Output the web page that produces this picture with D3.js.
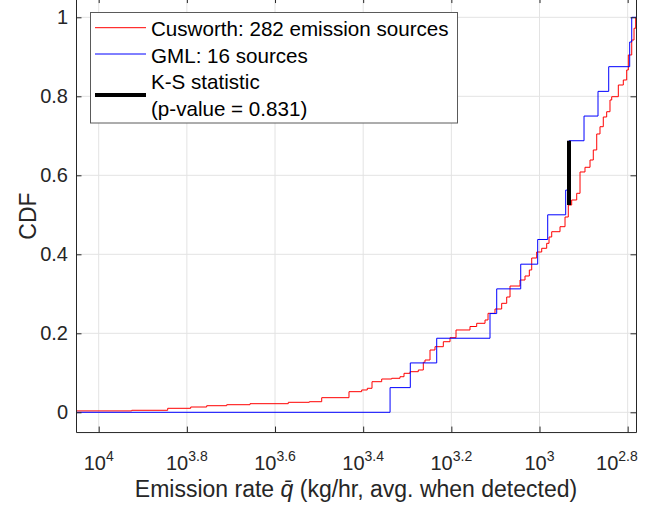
<!DOCTYPE html>
<html>
<head>
<meta charset="utf-8">
<script src="https://cdn.jsdelivr.net/npm/d3@7/dist/d3.min.js"></script>
<style>
  html, body { margin: 0; padding: 0; background: #fff; }
  svg { display: block; font-family: "Liberation Sans", Arial, Helvetica, sans-serif; }
</style>
</head>
<body>
<svg id="chart" width="652" height="505"></svg>
<script>
// Cusworth inventory: empirical CDF breakpoints (log10 of kg/hr, cumulative fraction)
const cusworthLog10Rate = [
  4.0515, 3.9251, 3.8435, 3.7913, 3.7550, 3.7096, 3.6568, 3.5699, 3.5222, 3.4941,
  3.4322, 3.4034, 3.3907, 3.3800, 3.3580, 3.3353, 3.3165, 3.3074, 3.2938, 3.2750,
  3.2636, 3.2598, 3.2484, 3.2371, 3.2182, 3.2030, 3.1894, 3.1577, 3.1425, 3.1236,
  3.1168, 3.1010, 3.0858, 3.0744, 3.0669, 3.0442, 3.0329, 3.0231, 3.0177, 3.0064,
  2.9950, 2.9837, 2.9784, 2.9723, 2.9535, 2.9421, 2.9347, 2.9270, 2.9156, 2.9081,
  2.8968, 2.8854, 2.8780, 2.8702, 2.8628, 2.8553, 2.8476, 2.8401, 2.8362, 2.8212,
  2.8099, 2.8022, 2.7985, 2.7908, 2.7856, 2.7818
];
const cusworthCdf = [
  0.0035, 0.0051, 0.0101, 0.0134, 0.0167, 0.0192, 0.0218, 0.0253, 0.0268, 0.0370,
  0.0522, 0.0565, 0.0608, 0.0775, 0.0843, 0.0861, 0.0901, 0.0987, 0.1028, 0.1071,
  0.1266, 0.1324, 0.1577, 0.1661, 0.1787, 0.1889, 0.2084, 0.2172, 0.2253, 0.2337,
  0.2506, 0.2615, 0.2759, 0.2919, 0.3197, 0.3349, 0.3451, 0.3603, 0.3906, 0.4058,
  0.4152, 0.4278, 0.4438, 0.4572, 0.4699, 0.4944, 0.5248, 0.5375, 0.5544, 0.6084,
  0.6203, 0.6387, 0.6641, 0.7046, 0.7230, 0.7476, 0.7610, 0.7906, 0.7990, 0.8286,
  0.8413, 0.8666, 0.9046, 0.9425, 0.9722, 1.0000
];

// GML: 16 sources (log10 of kg/hr)
const gmlLog10Rate = [
  3.3390, 3.2931, 3.2332, 3.1123, 3.0971, 3.0426, 3.0041, 2.9814,
  2.9406, 2.9331, 2.9331, 2.8990, 2.8673, 2.8430, 2.7954, 2.7908
];

// Kolmogorov-Smirnov statistic location and its end points
const ksLog10Rate = 2.9331;
const ksCdf = [0.5248, 0.6875];
const ksPValue = 0.831;

// axis limits and ticks
const xLimLog10 = [4.0515, 2.7811];
const yLim = [-0.05, 1.05];
const xTickExponents = [4, 3.8, 3.6, 3.4, 3.2, 3, 2.8];
const yTickValues = [0, 0.2, 0.4, 0.6, 0.8, 1];
const yTickLabels = ["0", "0.2", "0.4", "0.6", "0.8", "1"];

const legendLabels = ["Cusworth: 282 emission sources", "GML: 16 sources", "K-S statistic", "(p-value = " + ksPValue + ")"];

// ---- layout ----
const plot = { left: 76, right: 636, top: -2.45, bottom: 432.05 };
const axisColor = "#262626";
const gridColor = "#e3e3e3";
const tickLen = 5.5;

const svg = d3.select("#chart");

const x = d3.scaleLog()
  .domain(xLimLog10.map(e => Math.pow(10, e)))
  .range([plot.left, plot.right]);
const y = d3.scaleLinear()
  .domain(yLim)
  .range([plot.bottom, plot.top]);

// grid
const grid = svg.append("g").attr("class", "grid");
grid.selectAll("line.gx").data(xTickExponents).join("line")
  .attr("x1", d => x(Math.pow(10, d))).attr("x2", d => x(Math.pow(10, d)))
  .attr("y1", plot.top).attr("y2", plot.bottom)
  .attr("stroke", gridColor).attr("stroke-width", 1);
grid.selectAll("line.gy").data(yTickValues).join("line")
  .attr("x1", plot.left).attr("x2", plot.right)
  .attr("y1", d => y(d)).attr("y2", d => y(d))
  .attr("stroke", gridColor).attr("stroke-width", 1);

// clip to the axes box
svg.append("defs").append("clipPath").attr("id", "clip")
  .append("rect")
  .attr("x", plot.left).attr("y", plot.top)
  .attr("width", plot.right - plot.left).attr("height", plot.bottom - plot.top);

const stairs = d3.line()
  .x(d => x(d[0]))
  .y(d => y(d[1]))
  .curve(d3.curveStepAfter);

// Cusworth curve
const redPts = cusworthLog10Rate.map((e, i) => [Math.pow(10, e), cusworthCdf[i]]);
redPts.push([Math.pow(10, xLimLog10[1]), cusworthCdf[cusworthCdf.length - 1]]);

// GML empirical CDF (rates sorted high to low, as plotted on reversed axis)
const gmlSorted = gmlLog10Rate.slice().sort((a, b) => b - a);
const bluePts = [[Math.pow(10, xLimLog10[0]), 0]];
gmlSorted.forEach((e, i) => bluePts.push([Math.pow(10, e), (i + 1) / gmlSorted.length]));
bluePts.push([Math.pow(10, xLimLog10[1]), 1]);

const marks = svg.append("g").attr("clip-path", "url(#clip)");
marks.append("path").datum(redPts)
  .attr("d", stairs).attr("fill", "none")
  .attr("stroke", "#ff0000").attr("stroke-width", 1);
marks.append("path").datum(bluePts)
  .attr("d", stairs).attr("fill", "none")
  .attr("stroke", "#0000ff").attr("stroke-width", 1);
marks.append("line")
  .attr("x1", x(Math.pow(10, ksLog10Rate))).attr("x2", x(Math.pow(10, ksLog10Rate)))
  .attr("y1", y(ksCdf[0])).attr("y2", y(ksCdf[1]))
  .attr("stroke", "#000").attr("stroke-width", 4);

// axes (ticks inward, box on)
const xTicks = xTickExponents.map(e => Math.pow(10, e));
const axB = svg.append("g").attr("transform", `translate(0,${plot.bottom})`)
  .call(d3.axisBottom(x).tickValues(xTicks).tickSizeInner(-tickLen).tickSizeOuter(0).tickFormat(""));
const axT = svg.append("g").attr("transform", `translate(0,${plot.top})`)
  .call(d3.axisTop(x).tickValues(xTicks).tickSizeInner(-tickLen).tickSizeOuter(0).tickFormat(""));
const axL = svg.append("g").attr("transform", `translate(${plot.left},0)`)
  .call(d3.axisLeft(y).tickValues(yTickValues).tickSizeInner(-tickLen).tickSizeOuter(0).tickFormat(""));
const axR = svg.append("g").attr("transform", `translate(${plot.right},0)`)
  .call(d3.axisRight(y).tickValues(yTickValues).tickSizeInner(-tickLen).tickSizeOuter(0).tickFormat(""));
[axB, axT, axL, axR].forEach(a => {
  a.selectAll("path.domain").attr("stroke", axisColor).attr("stroke-width", 1);
  a.selectAll(".tick line").attr("stroke", axisColor).attr("stroke-width", 1);
});

// x tick labels: 10 with superscript exponent, kept inside the figure on the right
const xl = svg.append("g").attr("fill", axisColor).attr("font-size", 20);
const labelRightLimit = plot.right + 2;
xTickExponents.forEach(e => {
  const t = xl.append("text")
    .attr("x", x(Math.pow(10, e)))
    .attr("y", 470)
    .attr("text-anchor", "middle");
  t.append("tspan").text("10");
  t.append("tspan").attr("dy", -9).attr("font-size", 14).text(String(e));
  const bb = t.node().getBBox();
  if (bb.x + bb.width > labelRightLimit) {
    t.attr("x", x(Math.pow(10, e)) - (bb.x + bb.width - labelRightLimit));
  }
});

// y tick labels
svg.append("g").attr("fill", axisColor).attr("font-size", 20)
  .selectAll("text").data(yTickValues).join("text")
  .attr("x", plot.left - 8)
  .attr("y", d => y(d) + 7)
  .attr("text-anchor", "end")
  .text((d, i) => yTickLabels[i]);

// axis titles
const xt = svg.append("text")
  .attr("x", (plot.left + plot.right) / 2)
  .attr("y", 497)
  .attr("text-anchor", "middle")
  .attr("font-size", 23)
  .attr("fill", axisColor);
xt.append("tspan").text("Emission rate ");
xt.append("tspan").attr("font-style", "italic").text("q\u0304");
xt.append("tspan").text(" (kg/hr, avg. when detected)");

svg.append("text")
  .attr("transform", `translate(36,216) rotate(-90)`)
  .attr("text-anchor", "middle")
  .attr("font-size", 23)
  .attr("fill", axisColor)
  .text("CDF");

// legend
const lg = svg.append("g");
lg.append("rect")
  .attr("x", 90.5).attr("y", 12.5).attr("width", 367).attr("height", 110.5)
  .attr("fill", "#fff").attr("stroke", "#5a5a5a").attr("stroke-width", 1);
const legendItems = [
  { color: "#ff0000", width: 1, ly: 27.7 },
  { color: "#0000ff", width: 1, ly: 54 },
  { color: "#000000", width: 4, ly: 95 }
];
legendItems.forEach(d => {
  lg.append("line")
    .attr("x1", 95).attr("x2", 146).attr("y1", d.ly).attr("y2", d.ly)
    .attr("stroke", d.color).attr("stroke-width", d.width);
});
const legendTextY = [29, 55.5, 82, 108.5];
legendLabels.forEach((s, i) => {
  lg.append("text")
    .attr("x", 151).attr("y", legendTextY[i] + 7.4)
    .attr("font-size", 20.6).attr("fill", "#000")
    .text(s);
});
</script>
</body>
</html>
